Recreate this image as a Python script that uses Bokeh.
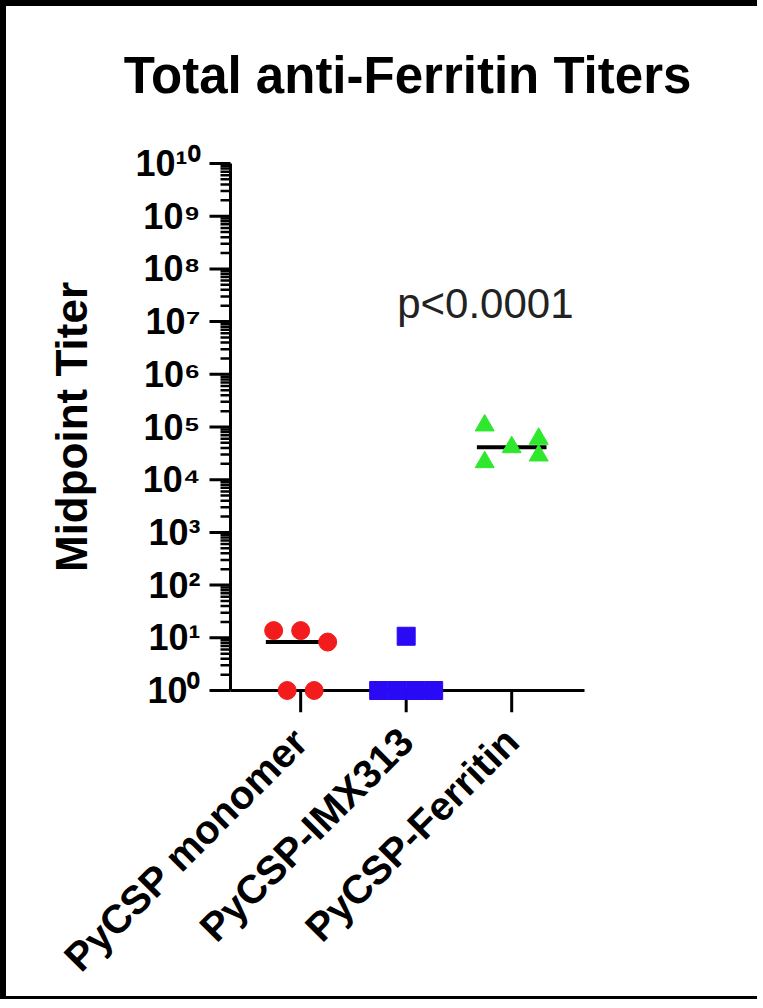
import math
import numpy as np
from bokeh.plotting import figure
from bokeh.models import FixedTicker, Label
from bokeh.embed import file_html
from bokeh.resources import INLINE

# ---------------- data ----------------
categories = ["PyCSP monomer", "PyCSP-IMX313", "PyCSP-Ferritin"]
monomer_titers = [13.7, 13.7, 8.3, 1, 1]
imx313_titers = [10.7, 1, 1, 1, 1]
ferritin_titers = [107000, 41400, 59700, 21500, 28800]
y_exponents = list(range(0, 11))
title_text = "Total anti-Ferritin Titers"
y_title = "Midpoint Titer"
p_value_text = "p<0.0001"

series = [monomer_titers, imx313_titers, ferritin_titers]
colors = ["#f21c1c", "#2a0af5", "#2ee82e"]
markers = ["circle", "square", "triangle"]
sizes = [18, 18, 19]

# ---------------- layout (canvas px) ----------------
FONT = "Liberation Sans"
BL, BT, BB = 6, 6, 3               # css border widths (left, top, bottom)
W, H = 763 - BL, 1008 - BT - BB
TICK_LONG, TICK_SHORT = 21, 10
PAD = 22                           # frame extends beyond the axes
X_AXIS = 230 - BL                  # y axis line
X_AXIS_END = 584 - BL              # right end of x axis line
Y_TOP = 163 - BT                   # y = 1e10
Y1 = 690 - BT                      # y = 1
LEFT = X_AXIS - TICK_LONG - 2
RIGHT = W - (X_AXIS_END + (X_AXIS - LEFT))
TOP = Y_TOP - PAD
BOTTOM = H - (Y1 + PAD)
px_per_decade = (Y1 - Y_TOP) / 10.0
pad_dec = PAD / px_per_decade
y_start, y_end = 10 ** (-pad_dec), 10 ** (10 + pad_dec)
x_axis_val, x_axis_end_val = 0.335, 3.69
px_per_unit = (X_AXIS_END - X_AXIS) / (x_axis_end_val - x_axis_val)
x_start = x_axis_val - (X_AXIS - LEFT) / px_per_unit
x_end = x_axis_end_val + (X_AXIS - LEFT) / px_per_unit
TITLE_BOTTOM = 95 - BT + 8          # bottom of the title text box

STEP_PX, SPAN_PX, ROW_PX, COLL_PX = 27.0, 55.0, 24.0, 16.0


def swarm_offsets(vals):
    ly = np.log10(np.asarray(vals, dtype=float)) * px_per_decade
    order = sorted(range(len(vals)), key=lambda i: -ly[i])
    rows = []
    for i in order:
        if rows and abs(ly[rows[-1][0]] - ly[i]) < ROW_PX:
            rows[-1].append(i)
        else:
            rows.append([i])
    offs = [0.0] * len(vals)
    placed = []
    for row in rows:
        row = sorted(row)
        n = len(row)
        step = STEP_PX if n < 2 else min(STEP_PX, SPAN_PX / (n - 1))
        for factor in (1, 2, 3):
            cand = [(k - (n - 1) / 2) * step * factor for k in range(n)]
            bad = any(abs(cand[k] - offs[j]) < COLL_PX and abs(ly[row[k]] - ly[j]) < COLL_PX
                      for k in range(n) for j in placed)
            if not bad:
                break
        for k, i in enumerate(row):
            offs[i] = cand[k]
        placed.extend(row)
    return [o / px_per_unit for o in offs]


p = figure(width=W, height=H, x_range=(x_start, x_end), y_range=(y_start, y_end),
           y_axis_type="log", output_backend="svg", toolbar_location=None,
           min_border_left=LEFT, min_border_right=RIGHT,
           min_border_top=TOP, min_border_bottom=BOTTOM,
           title=title_text)
p.styles = {"border-left": f"{BL}px solid black", "border-top": f"{BT}px solid black",
            "border-bottom": f"{BB}px solid black"}
p.outline_line_color = None
p.grid.visible = False
p.background_fill_color = "white"
p.border_fill_color = "white"

p.title.text_font = FONT
p.title.text_font_size = "51px"
p.title.text_font_style = "bold"
p.title.align = "center"
p.title.text_color = "black"
p.title.standoff = 2 * (TOP - TITLE_BOTTOM)

SUP = str.maketrans("0123456789", "⁰¹²³⁴⁵⁶⁷⁸⁹")
major_vals = [float(10 ** e) for e in y_exponents]
minor_vals = [float(m * 10 ** e) for e in y_exponents[:-1] for m in range(2, 10)]

# y axis: labels from the axis; line and ticks drawn as glyphs
ya = p.yaxis[0]
ya.ticker = FixedTicker(ticks=major_vals)
ya.major_label_overrides = {10 ** e: "10" + str(e).translate(SUP) for e in y_exponents}
ya.axis_line_color = None
ya.major_tick_line_color = None
ya.minor_tick_line_color = None
ya.major_tick_out = 0
ya.major_tick_in = 0
ya.minor_tick_out = 0
ya.minor_tick_in = 0
ya.major_label_text_font = FONT
ya.major_label_text_font_size = "36px"
ya.major_label_text_font_style = "bold"
ya.major_label_text_color = "black"
ya.major_label_standoff = 7
ya.axis_label = y_title
ya.axis_label_text_font = FONT
ya.axis_label_text_font_size = "44px"
ya.axis_label_text_font_style = "bold"
ya.axis_label_text_color = "black"
ya.axis_label_standoff = 36

# x axis: labels from the axis; line and ticks drawn at y = 1
xa = p.xaxis[0]
cat_pos = [i + 1 for i in range(len(categories))]
xa.ticker = FixedTicker(ticks=cat_pos)
xa.major_label_overrides = {c: name for c, name in zip(cat_pos, categories)}
xa.major_label_orientation = math.pi / 4
xa.axis_line_color = None
xa.major_tick_line_color = None
xa.minor_tick_line_color = None
xa.major_tick_out = 0
xa.major_tick_in = 0
xa.major_label_text_font = FONT
xa.major_label_text_font_size = "40px"
xa.major_label_text_font_style = "bold"
xa.major_label_text_color = "black"
xa.major_label_standoff = 22

long_x0 = x_axis_val - TICK_LONG / px_per_unit
short_x0 = x_axis_val - TICK_SHORT / px_per_unit
p.segment(x0=[short_x0] * len(minor_vals), y0=minor_vals, x1=[x_axis_val] * len(minor_vals),
          y1=minor_vals, line_color="black", line_width=2.5)
p.segment(x0=[long_x0] * len(major_vals), y0=major_vals, x1=[x_axis_val] * len(major_vals),
          y1=major_vals, line_color="black", line_width=3)
p.segment(x0=[x_axis_val], y0=[major_vals[0]], x1=[x_axis_val], y1=[major_vals[-1]],
          line_color="black", line_width=3)
p.segment(x0=[x_axis_val], y0=[1], x1=[x_axis_end_val], y1=[1], line_color="black", line_width=3)
p.segment(x0=cat_pos, y0=[1] * len(cat_pos), x1=cat_pos, y1=[y_start] * len(cat_pos),
          line_color="black", line_width=3)

# medians then points
for gi, vals in enumerate(series):
    c = cat_pos[gi]
    med = float(np.median(vals))
    p.segment(x0=[c - 0.33], y0=[med], x1=[c + 0.33], y1=[med], line_color="black", line_width=4)

for gi, vals in enumerate(series):
    c = cat_pos[gi]
    xs = [c + o for o in swarm_offsets(vals)]
    p.scatter(x=xs, y=vals, marker=markers[gi], size=sizes[gi],
              fill_color=colors[gi], line_color=colors[gi], line_width=1)

p.add_layout(Label(x=2.75, y=10 ** 7.35, text=p_value_text, text_align="center",
                   text_baseline="middle", text_font=FONT, text_font_size="42px",
                   text_color="#222222"))

open("out.html", "w").write(file_html(p, INLINE))
